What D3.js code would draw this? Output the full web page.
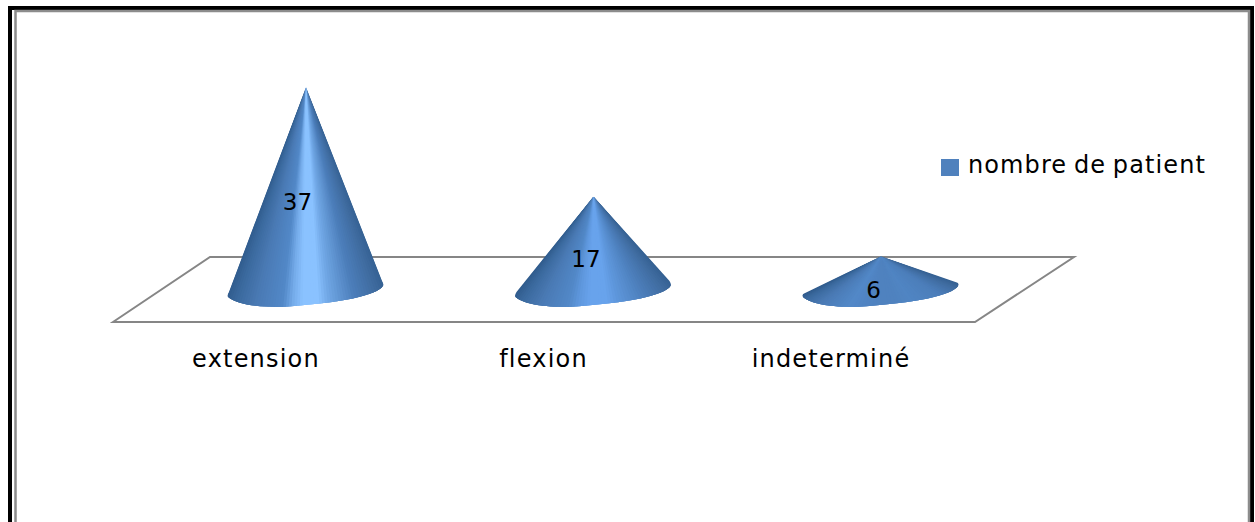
<!DOCTYPE html>
<html>
<head>
<meta charset="utf-8">
<script src="https://cdn.jsdelivr.net/npm/d3@7"></script>
<style>
	html, body { margin: 0; padding: 0; background: #fff; }
	svg { display: block; }
	text { font-family: "DejaVu Sans", sans-serif; fill: #000; }
</style>
</head>
<body>
<div id="demo"></div>
<script>
// data
var categories = ['extension', 'flexion', 'indeterminé'];
var values = [37, 17, 6];
var seriesName = 'nombre de patient';

var width = 1255, height = 522;

var svg = d3.select('#demo').append('svg')
	.attr('width', width)
	.attr('height', height);

// frame, open at the bottom
svg.append('path')
	.attr('d', 'M10,522V8H1252V522')
	.attr('fill', 'none')
	.attr('stroke', '#000')
	.attr('stroke-width', 4);
svg.append('path')
	.attr('d', 'M15.5,522V11H1249V522')
	.attr('fill', 'none')
	.attr('stroke', '#8c8c8c')
	.attr('stroke-width', 2.5);

// scales
var x = d3.scalePoint().domain(categories).range([306, 881]);
var y = d3.scaleLinear().domain([0, 37]).range([289, 87]);

// floor
svg.append('path')
	.attr('d', 'M113,322L210,257H1074L975,322Z')
	.attr('fill', '#fff')
	.attr('stroke', '#868686')
	.attr('stroke-width', 2);

// the highlight gets brighter with the height of the cone
var highlight = d3.scaleLinear().domain([6, 17, 37]).range(['#4f82bf', '#68a3ec', '#8ac2ff']);

// shading across the cone, 0 = left edge, 1 = right edge
function shade(d, t) {
	var h = highlight(d);
	return d3.scaleLinear()
		.domain([0, 0.08, 0.22, 0.38, 0.44, 0.5, 0.56, 0.62, 0.78, 0.92, 1])
		.range(['#2e5a8a', '#3a689c', '#4a7ab4', '#5288c8',
			d3.interpolateRgb('#5288c8', h)(0.6), h, h,
			d3.interpolateRgb('#5288c8', h)(0.55), '#4c7eba', '#3f6b9f', '#335f90'])(t);
}

// cone outline: apex from the value, tilted elliptical base
function conePath(d, i) {
	var cx = x(categories[i]);
	var ay = y(d);
	var lx = cx - 78, ly = 295;
	var rx = cx + 77, ry = 284;
	return 'M' + cx + ',' + ay
		+ 'L' + (rx - 1) + ',' + (ry - 3)
		+ 'Q' + (rx + 1) + ',' + ry + ' ' + rx + ',' + (ry + 2)
		+ 'C' + (rx - 6) + ',' + (ry + 11) + ' ' + (rx - 40) + ',' + (ry + 19) + ' ' + (cx - 26) + ',' + (ry + 23)
		+ 'C' + (cx - 50) + ',' + (ry + 23) + ' ' + (lx + 8) + ',' + (ly + 9) + ' ' + lx + ',' + (ly + 2)
		+ 'Q' + (lx - 1) + ',' + ly + ' ' + (lx + 1) + ',' + (ly - 3)
		+ 'Z';
}

var defs = svg.append('defs');
defs.selectAll('clipPath')
	.data(values)
	.enter()
	.append('clipPath')
	.attr('id', function(d, i) { return 'cone' + i; })
	.append('path')
	.attr('d', conePath);

var group1 = svg.selectAll('.cone')
	.data(values)
	.enter()
	.append('g')
	.attr('class', 'cone');

// fan of overlapping slices from the apex gives the conical shading,
// painted from the edges in so the bright middle stays on top at the tip
var step = 1 / 60;
var slices = d3.range(0, 1, step).sort(function(a, b) {
	return Math.abs(b + step / 2 - 0.5) - Math.abs(a + step / 2 - 0.5);
});
group1.append('g')
	.attr('clip-path', function(d, i) { return 'url(#cone' + i + ')'; })
	.each(function(d, i) {
		var cx = x(categories[i]);
		var ay = y(d);
		var lx = cx - 78, ly = 295, rx = cx + 77, ry = 284;
		function edge(t) {
			var px = lx + (rx - lx) * t, py = ly + (ry - ly) * t;
			return (cx + (px - cx) * 2) + ',' + (ay + (py - ay) * 2);
		}
		d3.select(this).selectAll('path')
			.data(slices)
			.enter()
			.append('path')
			.attr('d', function(t) {
				// widen on both sides so no seam shows between slices
				return 'M' + cx + ',' + ay + 'L' + edge(t - step) + 'L' + edge(t + 2 * step) + 'Z';
			})
			.attr('fill', function(t) { return shade(d, t + step / 2); });
	});

// value labels
var labelX = d3.scaleLinear().domain([6, 17, 37]).range([873.5, 586, 297.5]);
var labelY = d3.scaleLinear().domain([6, 17, 37]).range([298, 267, 209.5]);
group1.append('text')
	.attr('x', function(d) { return labelX(d); })
	.attr('y', function(d) { return labelY(d); })
	.attr('text-anchor', 'middle')
	.attr('font-size', 23)
	.text(function(d) { return d; });

// category labels
svg.selectAll('.cat')
	.data(categories)
	.enter()
	.append('text')
	.attr('class', 'cat')
	.attr('x', function(d) { return x(d) - 50; })
	.attr('y', 367)
	.attr('text-anchor', 'middle')
	.attr('font-size', 24)
	.attr('letter-spacing', 1.2)
	.text(function(d) { return d; });

// legend
svg.append('rect')
	.attr('x', 941).attr('y', 159)
	.attr('width', 18).attr('height', 17)
	.attr('fill', '#4f81bd');
svg.append('text')
	.attr('x', 968).attr('y', 173)
	.attr('font-size', 24)
	.attr('letter-spacing', 1.1)
	.attr('word-spacing', -2)
	.text(seriesName);
</script>
</body>
</html>
